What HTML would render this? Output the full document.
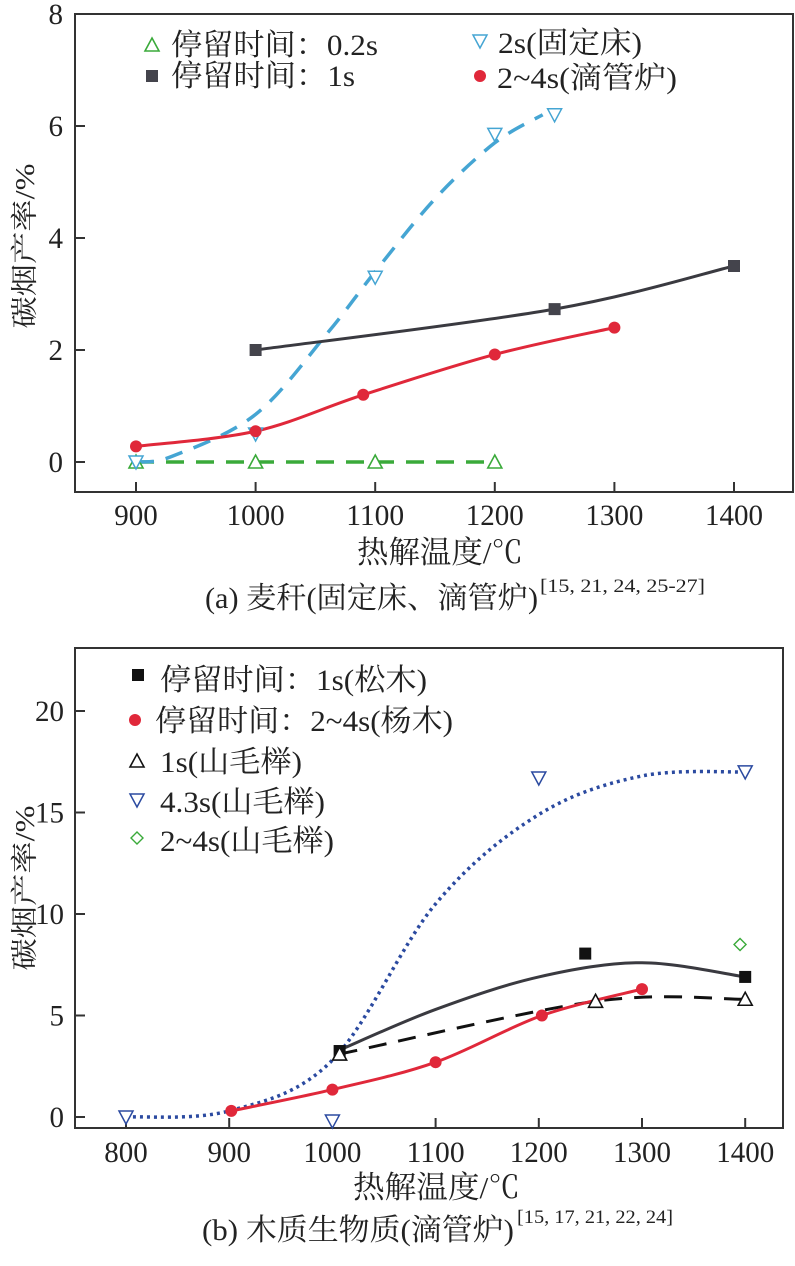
<!DOCTYPE html>
<html><head><meta charset="utf-8"><style>
body{margin:0;background:#fff;}
svg{display:block;font-family:"Liberation Serif","Noto Serif CJK SC",serif;}
</style></head><body>
<svg id="c" width="795" height="1266" viewBox="0 0 795 1266"></svg>
<script>
// ---------- Chart (a) data ----------
const aXTicks=[900,1000,1100,1200,1300,1400];
const aYTicks=[0,2,4,6,8];
const aGreenX=[900,1000,1100,1200];
const aGreenY=[0,0,0,0];
const aBlueX=[900,1000,1100,1200,1250];
const aBlueY=[0,0.5,3.3,5.85,6.2];
const aBlueFitX=[900,930,1000,1060,1100,1150,1200,1240];
const aBlueFitY=[0,0.1,0.85,2.3,3.4,4.7,5.7,6.2];
const aBlackX=[1000,1250,1400];
const aBlackY=[2,2.73,3.5];
const aRedX=[900,1000,1090,1200,1300];
const aRedY=[0.28,0.55,1.2,1.92,2.4];
// ---------- Chart (b) data ----------
const bXTicks=[800,900,1000,1100,1200,1300,1400];
const bYTicks=[0,5,10,15,20];
const bSqX=[1007,1245,1400];
const bSqY=[3.25,8.05,6.9];
const bSqFitX=[1007,1100,1200,1300,1400];
const bSqFitY=[3.3,5.3,6.9,7.6,6.9];
const bRedX=[902,1000,1100,1203,1300];
const bRedY=[0.3,1.35,2.7,5.0,6.3];
const bTriX=[1007,1255,1400];
const bTriY=[3.1,5.7,5.8];
const bInvX=[800,1000,1200,1400];
const bInvY=[0,-0.2,16.7,17];
const bInvFitX=[800,900,1000,1100,1200,1300,1400];
const bInvFitY=[0,0.3,2.8,10.5,14.9,16.8,17.0];
const bDiaX=[1395];
const bDiaY=[8.5];

const NS="http://www.w3.org/2000/svg";
const svg=document.getElementById('c');
function mk(tag,attrs,parent){const e=document.createElementNS(NS,tag);for(const k in attrs)e.setAttribute(k,attrs[k]);(parent||svg).appendChild(e);return e;}
function txt(s,x,y,size,anchor,parent,len){const a={x:x,y:y,'font-size':size,'text-anchor':anchor||'start',fill:'#222'};if(len){a.textLength=len;a.lengthAdjust='spacingAndGlyphs';}const t=mk('text',a,parent);t.textContent=s;return t;}
function smooth(pts){let d='M'+pts[0][0]+','+pts[0][1];for(let i=0;i<pts.length-1;i++){const p0=pts[Math.max(0,i-1)],p1=pts[i],p2=pts[i+1],p3=pts[Math.min(pts.length-1,i+2)];const c1=[p1[0]+(p2[0]-p0[0])/6,p1[1]+(p2[1]-p0[1])/6],c2=[p2[0]-(p3[0]-p1[0])/6,p2[1]-(p3[1]-p1[1])/6];d+=' C'+c1+' '+c2+' '+p2;}return d;}
function marker(type,x,y,color,parent){
  if(type==='sq') return mk('rect',{x:x-6,y:y-6,width:12,height:12,fill:color},parent);
  if(type==='dot') return mk('circle',{cx:x,cy:y,r:6,fill:color},parent);
  if(type==='tri') return mk('path',{d:`M${x},${y-7} L${x+7},${y+6} L${x-7},${y+6} Z`,fill:'#fff',stroke:color,'stroke-width':1.6},parent);
  if(type==='inv') return mk('path',{d:`M${x-7},${y-6} L${x+7},${y-6} L${x},${y+7} Z`,fill:'#fff',stroke:color,'stroke-width':1.5},parent);
  if(type==='dia') return mk('path',{d:`M${x},${y-6} L${x+6},${y} L${x},${y+6} L${x-6},${y} Z`,fill:'#fff',stroke:color,'stroke-width':1.4},parent);
}

// ===== Chart A =====
const A={x0:900,px0:136,ppx:1.196,py0:462,ppy:56,L:75,R:793,T:14,B:492};
const ax=v=>A.px0+(v-A.x0)*A.ppx, ay=v=>A.py0-v*A.ppy;
const gA=mk('g',{});


const frameA=mk('rect',{x:A.L,y:A.T,width:A.R-A.L,height:A.B-A.T,fill:'none',stroke:'#333','stroke-width':2},gA);


aXTicks.forEach(v=>{mk('line',{x1:ax(v),x2:ax(v),y1:A.B,y2:A.B-10,stroke:'#333','stroke-width':2},gA);const t=txt(String(v),ax(v),525,30,'middle',gA,String(v).length*14.5);});
aYTicks.forEach(v=>{mk('line',{x1:A.L,x2:A.L+10,y1:ay(v),y2:ay(v),stroke:'#333','stroke-width':2},gA);const t=txt(String(v),A.L-12,ay(v)+10,30,'end',gA,String(v).length*14.5);});
let p;
p=mk('path',{d:'M'+ax(aGreenX[0])+','+ay(aGreenY[0])+' L'+ax(aGreenX[aGreenX.length-1])+','+ay(aGreenY[aGreenY.length-1]),fill:'none',stroke:'#3aaa3a','stroke-width':3.5,'stroke-dasharray':'18,12'},gA);


p=mk('path',{d:smooth(aBlueFitX.map((x,i)=>[ax(x),ay(aBlueFitY[i])])),fill:'none',stroke:'#45a5d3','stroke-width':3.5,'stroke-dasharray':'18,12'},gA);


p=mk('path',{d:smooth(aBlackX.map((x,i)=>[ax(x),ay(aBlackY[i])])),fill:'none',stroke:'#3a3a40','stroke-width':3},gA);


p=mk('path',{d:smooth(aRedX.map((x,i)=>[ax(x),ay(aRedY[i])])),fill:'none',stroke:'#e0283a','stroke-width':3},gA);


aGreenX.forEach((x,i)=>{const m=marker('tri',ax(x),ay(aGreenY[i]),'#3aaa3a',gA);});
aBlueX.forEach((x,i)=>{const m=marker('inv',ax(x),ay(aBlueY[i]),'#45a5d3',gA);});
aBlackX.forEach((x,i)=>{const m=marker('sq',ax(x),ay(aBlackY[i]),'#44444c',gA);});
aRedX.forEach((x,i)=>{const m=marker('dot',ax(x),ay(aRedY[i]),'#e0283a',gA);});
// legend a
const legA=mk('g',{},gA);


marker('tri',152,45,'#3aaa3a',legA);txt('停留时间：0.2s',171,55,30,'start',legA,207);
marker('sq',152,76,'#44444c',legA);txt('停留时间：1s',171,86,30,'start',legA,184);
marker('inv',480,41,'#45a5d3',legA);txt('2s(固定床)',498,53,30,'start',legA,144);
marker('dot',480,76,'#e0283a',legA);txt('2~4s(滴管炉)',497,88,30,'start',legA,180);
let t;
t=txt('热解温度/℃',357,563,31,'start',gA,166);


t=txt('碳烟产率/%',0,0,27,'middle',gA,165);t.setAttribute('transform','translate(34,246) rotate(-90)');


t=txt('(a) 麦秆(固定床、滴管炉)',205,608,30,'start',gA,333);


t=txt('[15, 21, 24, 25-27]',540,592,19,'start',gA,165);



// ===== Chart B =====
const B={x0:800,px0:126,ppx:1.032,py0:1117,ppy:20.3,L:75,R:783,T:648,B:1128};
const bx=v=>B.px0+(v-B.x0)*B.ppx, by=v=>B.py0-v*B.ppy;
const gB=mk('g',{});


const frameB=mk('rect',{x:B.L,y:B.T,width:B.R-B.L,height:B.B-B.T,fill:'none',stroke:'#333','stroke-width':2},gB);


bXTicks.forEach(v=>{mk('line',{x1:bx(v),x2:bx(v),y1:B.B,y2:B.B-10,stroke:'#333','stroke-width':2},gB);const t=txt(String(v),bx(v),1162,30,'middle',gB,String(v).length*14.5);});
bYTicks.forEach(v=>{mk('line',{x1:B.L,x2:B.L+10,y1:by(v),y2:by(v),stroke:'#333','stroke-width':2},gB);const t=txt(String(v),B.L-11,by(v)+10,30,'end',gB,String(v).length*14.5);});
p=mk('path',{d:smooth(bInvFitX.map((x,i)=>[bx(x),by(bInvFitY[i])])),fill:'none',stroke:'#2b4aa0','stroke-width':3.5,'stroke-dasharray':'3,4'},gB);


p=mk('path',{d:smooth(bSqFitX.map((x,i)=>[bx(x),by(bSqFitY[i])])),fill:'none',stroke:'#3a3a40','stroke-width':3},gB);


p=mk('path',{d:smooth(bTriX.map((x,i)=>[bx(x),by(bTriY[i])])),fill:'none',stroke:'#111','stroke-width':3,'stroke-dasharray':'18,12'},gB);


p=mk('path',{d:smooth(bRedX.map((x,i)=>[bx(x),by(bRedY[i])])),fill:'none',stroke:'#e0283a','stroke-width':3},gB);


bInvX.forEach((x,i)=>{const m=marker('inv',bx(x),by(bInvY[i]),'#2b4aa0',gB);});
bSqX.forEach((x,i)=>{const m=marker('sq',bx(x),by(bSqY[i]),'#111',gB);});
bTriX.forEach((x,i)=>{const m=marker('tri',bx(x),by(bTriY[i]),'#111',gB);});
bRedX.forEach((x,i)=>{const m=marker('dot',bx(x),by(bRedY[i]),'#e0283a',gB);});
bDiaX.forEach((x,i)=>{const m=marker('dia',bx(x),by(bDiaY[i]),'#3aaa3a',gB);});
const legB=mk('g',{},gB);


marker('sq',138,675,'#111',legB);txt('停留时间：1s(松木)',160,690,30,'start',legB,267);
marker('dot',135,720,'#e0283a',legB);txt('停留时间：2~4s(杨木)',155,731,30,'start',legB,298);
marker('tri',137,761,'#111',legB);txt('1s(山毛榉)',160,772,30,'start',legB,142);
marker('inv',137,800,'#2b4aa0',legB);txt('4.3s(山毛榉)',160,812,30,'start',legB,165);
marker('dia',137,838,'#3aaa3a',legB);txt('2~4s(山毛榉)',160,851,30,'start',legB,174);
t=txt('热解温度/℃',353,1198,31,'start',gB,167);


t=txt('碳烟产率/%',0,0,27,'middle',gB,165);t.setAttribute('transform','translate(34,888) rotate(-90)');


t=txt('(b) 木质生物质(滴管炉)',202,1240,30,'start',gB,312);


t=txt('[15, 17, 21, 22, 24]',517,1223,19,'start',gB,156);


</script>
</body></html>
